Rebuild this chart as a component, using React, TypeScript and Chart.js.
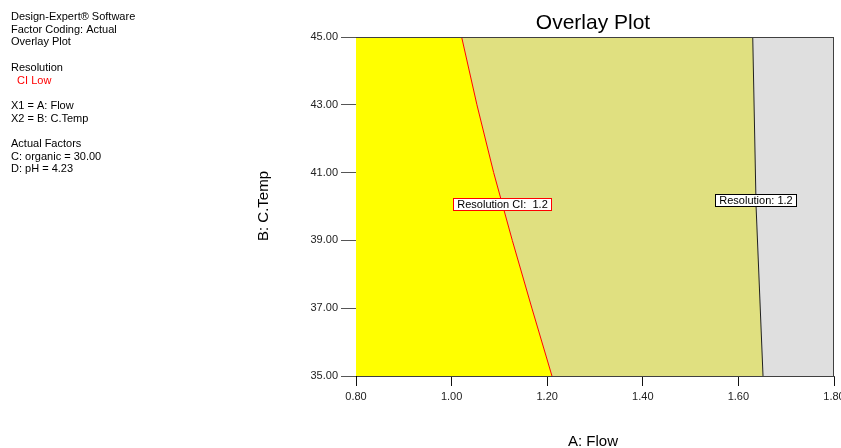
import React, { useEffect, useRef } from "react";
import { Chart, registerables } from "chart.js";

Chart.register(...registerables);

const FONT = "'Liberation Sans', Arial, Helvetica, sans-serif";

const chartTitle = "Overlay Plot";
const xAxisTitle = "A: Flow";
const yAxisTitle = "B: C.Temp";

const flowRange = [0.8, 1.8];
const tempRange = [35, 45];
const flowTicks = [0.8, 1.0, 1.2, 1.4, 1.6, 1.8];
const tempTicks = [35, 37, 39, 41, 43, 45];

// Resolution CI (low) = 1.2 boundary (red)
const ciBoundaryTemp = [45, 43, 41, 39, 37, 35];
const ciBoundaryFlow = [1.021, 1.053, 1.088, 1.127, 1.168, 1.21];

// Resolution = 1.2 boundary (black)
const resBoundaryTemp = [45, 40, 35];
const resBoundaryFlow = [1.63, 1.637, 1.6515];

const contourLabels = ["Resolution CI:  1.2", "Resolution: 1.2"];
const contourLabelFlow = [1.1075, 1.637];
const contourLabelTemp = [40.07, 40.19];
const contourLabelColors = ["#ff0000", "#000000"];

const infoLines = [
  "Design-Expert® Software",
  "Factor Coding: Actual",
  "Overlay Plot",
  "",
  "Resolution",
  "  CI Low",
  "",
  "X1 = A: Flow",
  "X2 = B: C.Temp",
  "",
  "Actual Factors",
  "C: organic = 30.00",
  "D: pH = 4.23",
];
const infoColors = [
  "#000", "#000", "#000", "#000", "#000", "#ff0000", "#000",
  "#000", "#000", "#000", "#000", "#000", "#000",
];

const regionColors = { feasible: "#ffff00", ciFail: "#e0e080", fail: "#dfdfdf" };

export default function App() {
  const ref = useRef<HTMLCanvasElement | null>(null);

  useEffect(() => {
    const canvas = ref.current;
    if (!canvas) return;

    const ciPts = ciBoundaryFlow.map((x, i) => ({ x, y: ciBoundaryTemp[i] }));
    const resPts = resBoundaryFlow.map((x, i) => ({ x, y: resBoundaryTemp[i] }));

    const yellowPoly = [
      { x: flowRange[0], y: tempRange[1] },
      ...ciPts,
      { x: flowRange[0], y: tempRange[0] },
    ];
    const khakiPoly = [...ciPts, ...resPts.slice().reverse()];
    const grayPoly = [
      ...resPts,
      { x: flowRange[1], y: tempRange[0] },
      { x: flowRange[1], y: tempRange[1] },
    ];

    const poly = (data: any[], color: string) => ({
      data,
      borderWidth: 0,
      borderColor: color,
      backgroundColor: color,
      pointRadius: 0,
      fill: "shape",
      tension: 0,
    });

    const textPlugin = {
      id: "texts",
      afterDatasetsDraw(chart: any) {
        const ctx = chart.ctx;
        const xs = chart.scales.x;
        const ys = chart.scales.y;
        ctx.save();
        const a = chart.chartArea;
        ctx.strokeStyle = "#404040";
        ctx.lineWidth = 1;
        ctx.beginPath();
        ctx.moveTo(a.left, Math.round(a.top) + 0.5);
        ctx.lineTo(a.right, Math.round(a.top) + 0.5);
        ctx.moveTo(Math.round(a.right) - 0.5, a.top);
        ctx.lineTo(Math.round(a.right) - 0.5, a.bottom);
        ctx.stroke();

        ctx.font = `11px ${FONT}`;
        ctx.textAlign = "center";
        ctx.textBaseline = "middle";
        contourLabels.forEach((t, i) => {
          const px = xs.getPixelForValue(contourLabelFlow[i]);
          const py = ys.getPixelForValue(contourLabelTemp[i]);
          const w = Math.round(ctx.measureText(t).width + 9);
          const h = 13;
          const x0 = Math.round(px - w / 2);
          const y0 = Math.round(py - h / 2);
          ctx.fillStyle = "#ffffff";
          ctx.fillRect(x0, y0, w, h);
          ctx.strokeStyle = contourLabelColors[i];
          ctx.lineWidth = 1;
          ctx.strokeRect(x0 + 0.5, y0 + 0.5, w - 1, h - 1);
          ctx.fillStyle = "#000";
          ctx.fillText(t, x0 + w / 2, y0 + h / 2 + 0.5);
        });
        ctx.restore();
      },
      afterDraw(chart: any) {
        const ctx = chart.ctx;
        const a = chart.chartArea;
        ctx.save();
        ctx.fillStyle = "#000";
        ctx.textBaseline = "alphabetic";
        ctx.font = `21px ${FONT}`;
        ctx.textAlign = "center";
        ctx.fillText(chartTitle, (a.left + a.right) / 2 - 2, 29);
        ctx.font = `15px ${FONT}`;
        ctx.fillText(xAxisTitle, (a.left + a.right) / 2 - 2, 446);
        ctx.save();
        ctx.translate(268, 206);
        ctx.rotate(-Math.PI / 2);
        ctx.fillText(yAxisTitle, 0, 0);
        ctx.restore();
        ctx.font = `11px ${FONT}`;
        ctx.textAlign = "left";
        infoLines.forEach((t, i) => {
          if (!t) return;
          ctx.fillStyle = infoColors[i];
          ctx.fillText(t, 11, 20 + 12.7 * i);
        });
        ctx.restore();
      },
    };

    const chart = new Chart(canvas, {
      type: "line",
      data: {
        datasets: [
          {
            data: ciPts,
            borderColor: "#ff0000",
            borderWidth: 1,
            pointRadius: 0,
            fill: false,
            tension: 0,
          },
          {
            data: resPts,
            borderColor: "#202020",
            borderWidth: 1,
            pointRadius: 0,
            fill: false,
            tension: 0,
          },
          poly(yellowPoly, regionColors.feasible),
          poly(khakiPoly, regionColors.ciFail),
          poly(grayPoly, regionColors.fail),
        ] as any,
      },
      options: {
        responsive: false,
        animation: false,
        events: [],
        layout: { padding: { top: 37, right: 7, bottom: 0, left: 0 } },
        plugins: {
          legend: { display: false },
          tooltip: { enabled: false },
          title: { display: false },
        },
        scales: {
          x: {
            type: "linear",
            min: flowRange[0],
            max: flowRange[1],
            z: 1,
            afterBuildTicks: (s: any) => {
              s.ticks = flowTicks.map((v) => ({ value: v }));
            },
            afterFit: (s: any) => {
              s.height = 72;
              s.paddingLeft = 0;
              s.paddingRight = 0;
            },
            grid: {
              drawOnChartArea: false,
              drawTicks: true,
              tickLength: 10,
              color: "#111",
            },
            border: { display: true, color: "#404040", width: 1 },
            ticks: {
              font: { family: FONT, size: 11 },
              color: "#222",
              padding: 4,
              maxRotation: 0,
              autoSkip: false,
              callback: (v: any) => Number(v).toFixed(2),
            },
          },
          y: {
            type: "linear",
            min: tempRange[0],
            max: tempRange[1],
            z: 1,
            afterBuildTicks: (s: any) => {
              s.ticks = tempTicks.map((v) => ({ value: v }));
            },
            afterFit: (s: any) => {
              s.width = 356;
              s.paddingTop = 0;
              s.paddingBottom = 0;
            },
            grid: {
              drawOnChartArea: false,
              drawTicks: true,
              tickLength: 15,
              color: "#555",
            },
            border: { display: true, color: "#000", width: 1 },
            ticks: {
              font: { family: FONT, size: 11 },
              color: "#222",
              padding: 3,
              autoSkip: false,
              callback: (v: any) => Number(v).toFixed(2),
            },
          },
        },
      },
      plugins: [textPlugin],
    } as any);

    return () => chart.destroy();
  }, []);

  return (
    <div style={{ position: "absolute", left: 0, top: 0, width: 841, height: 448, background: "#fff" }}>
      <canvas ref={ref} width={841} height={448} style={{ display: "block" }} />
    </div>
  );
}
